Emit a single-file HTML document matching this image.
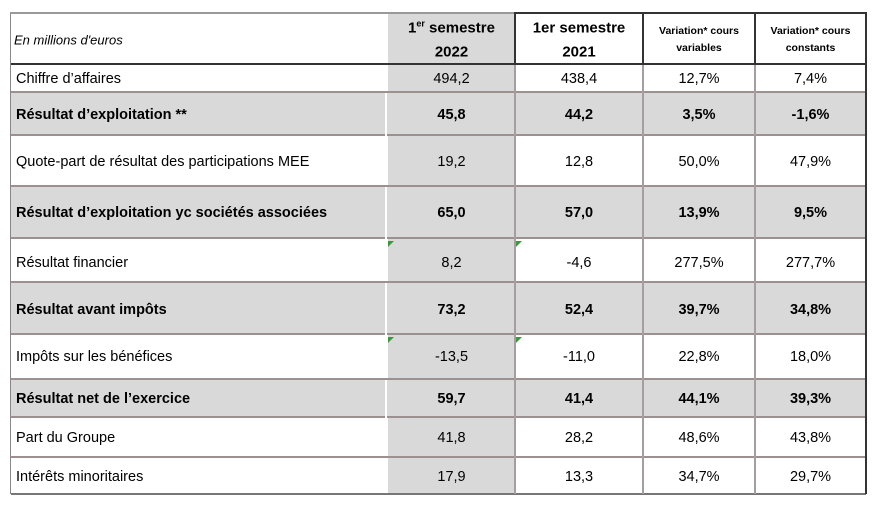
<!DOCTYPE html>
<html><head><meta charset="utf-8"><style>
body{margin:0;width:881px;height:508px;background:#fff;position:relative;overflow:hidden;font-family:"Liberation Sans",sans-serif;color:#000}
.a{position:absolute}
.r{position:absolute;left:11px;width:855px;border-bottom:2px solid #9c9090;box-sizing:border-box}
.g{background:#d9d9d9}
.t{position:absolute;font-size:14.5px;white-space:nowrap;transform:translateY(-50%)}
.c{text-align:center}
.b{font-weight:bold}
.v{position:absolute;top:13px;height:481px;width:2px;background:#a89ca0}
.tri{position:absolute;width:0;height:0;border-top:6px solid #3a9a3a;border-right:6px solid transparent}
</style></head><body>
<div class="a g" style="left:388px;top:13px;width:127px;height:481px"></div>
<div class="r" style="top:13px;height:52px;border-bottom-color:#333"></div>
<div class="r" style="top:65px;height:28px"></div>
<div class="r g" style="top:93px;height:43px"></div>
<div class="r" style="top:136px;height:51px"></div>
<div class="r g" style="top:187px;height:52px"></div>
<div class="r" style="top:239px;height:44px"></div>
<div class="r g" style="top:283px;height:52px"></div>
<div class="r" style="top:335px;height:45px"></div>
<div class="r g" style="top:380px;height:38px"></div>
<div class="r" style="top:418px;height:40px"></div>
<div class="r" style="top:458px;height:37px;border-bottom-color:#777"></div>
<div class="a" style="left:385px;top:93px;width:2px;height:43px;background:#fff"></div>
<div class="a" style="left:385px;top:187px;width:2px;height:52px;background:#fff"></div>
<div class="a" style="left:385px;top:283px;width:2px;height:52px;background:#fff"></div>
<div class="a" style="left:385px;top:380px;width:2px;height:38px;background:#fff"></div>
<div class="v" style="left:10px;background:#888;width:1px"></div>
<div class="v" style="left:514px"></div>
<div class="v" style="left:642px"></div>
<div class="v" style="left:754px"></div>
<div class="v" style="left:865px;background:#333"></div>
<div class="a" style="left:10px;top:12px;width:857px;height:2px;background:#999"></div>
<div class="a" style="left:514px;top:12px;width:353px;height:2px;background:#333"></div>
<div class="a" style="left:514px;top:12px;width:2px;height:53px;background:#333"></div>
<div class="a" style="left:642px;top:12px;width:2px;height:53px;background:#333"></div>
<div class="a" style="left:754px;top:12px;width:2px;height:53px;background:#333"></div>
<div class="tri" style="left:388px;top:241px"></div>
<div class="tri" style="left:516px;top:241px"></div>
<div class="tri" style="left:388px;top:337px"></div>
<div class="tri" style="left:516px;top:337px"></div>
<div class="t" style="left:14px;top:40px;font-style:italic;font-size:13px">En millions d'euros</div>
<div class="t c b" style="left:388px;width:127px;top:28px;font-size:15px">1<sup style="font-size:9px;line-height:0">er</sup> semestre</div>
<div class="t c b" style="left:388px;width:127px;top:52px;font-size:15px">2022</div>
<div class="t c b" style="left:515px;width:128px;top:28px;font-size:15px">1er semestre</div>
<div class="t c b" style="left:515px;width:128px;top:52px;font-size:15px">2021</div>
<div class="t c b" style="left:643px;width:112px;top:40px;line-height:17px;font-size:10.5px">Variation* cours<br>variables</div>
<div class="t c b" style="left:755px;width:111px;top:40px;line-height:17px;font-size:10.5px">Variation* cours<br>constants</div>
<div class="t" style="left:16px;top:79px">Chiffre d’affaires</div>
<div class="t c" style="left:388px;width:127px;top:79px">494,2</div><div class="t c" style="left:515px;width:128px;top:79px">438,4</div><div class="t c" style="left:643px;width:112px;top:79px">12,7%</div><div class="t c" style="left:755px;width:111px;top:79px">7,4%</div>
<div class="t b" style="left:16px;top:115px">Résultat d’exploitation **</div>
<div class="t c b" style="left:388px;width:127px;top:115px">45,8</div><div class="t c b" style="left:515px;width:128px;top:115px">44,2</div><div class="t c b" style="left:643px;width:112px;top:115px">3,5%</div><div class="t c b" style="left:755px;width:111px;top:115px">-1,6%</div>
<div class="t" style="left:16px;top:162px">Quote-part de résultat des participations MEE</div>
<div class="t c" style="left:388px;width:127px;top:162px">19,2</div><div class="t c" style="left:515px;width:128px;top:162px">12,8</div><div class="t c" style="left:643px;width:112px;top:162px">50,0%</div><div class="t c" style="left:755px;width:111px;top:162px">47,9%</div>
<div class="t b" style="left:16px;top:213px">Résultat d’exploitation yc sociétés associées</div>
<div class="t c b" style="left:388px;width:127px;top:213px">65,0</div><div class="t c b" style="left:515px;width:128px;top:213px">57,0</div><div class="t c b" style="left:643px;width:112px;top:213px">13,9%</div><div class="t c b" style="left:755px;width:111px;top:213px">9,5%</div>
<div class="t" style="left:16px;top:263px">Résultat financier</div>
<div class="t c" style="left:388px;width:127px;top:263px">8,2</div><div class="t c" style="left:515px;width:128px;top:263px">-4,6</div><div class="t c" style="left:643px;width:112px;top:263px">277,5%</div><div class="t c" style="left:755px;width:111px;top:263px">277,7%</div>
<div class="t b" style="left:16px;top:310px">Résultat avant impôts</div>
<div class="t c b" style="left:388px;width:127px;top:310px">73,2</div><div class="t c b" style="left:515px;width:128px;top:310px">52,4</div><div class="t c b" style="left:643px;width:112px;top:310px">39,7%</div><div class="t c b" style="left:755px;width:111px;top:310px">34,8%</div>
<div class="t" style="left:16px;top:357px">Impôts sur les bénéfices</div>
<div class="t c" style="left:388px;width:127px;top:357px">-13,5</div><div class="t c" style="left:515px;width:128px;top:357px">-11,0</div><div class="t c" style="left:643px;width:112px;top:357px">22,8%</div><div class="t c" style="left:755px;width:111px;top:357px">18,0%</div>
<div class="t b" style="left:16px;top:399px">Résultat net de l’exercice</div>
<div class="t c b" style="left:388px;width:127px;top:399px">59,7</div><div class="t c b" style="left:515px;width:128px;top:399px">41,4</div><div class="t c b" style="left:643px;width:112px;top:399px">44,1%</div><div class="t c b" style="left:755px;width:111px;top:399px">39,3%</div>
<div class="t" style="left:16px;top:438px">Part du Groupe</div>
<div class="t c" style="left:388px;width:127px;top:438px">41,8</div><div class="t c" style="left:515px;width:128px;top:438px">28,2</div><div class="t c" style="left:643px;width:112px;top:438px">48,6%</div><div class="t c" style="left:755px;width:111px;top:438px">43,8%</div>
<div class="t" style="left:16px;top:477px">Intérêts minoritaires</div>
<div class="t c" style="left:388px;width:127px;top:477px">17,9</div><div class="t c" style="left:515px;width:128px;top:477px">13,3</div><div class="t c" style="left:643px;width:112px;top:477px">34,7%</div><div class="t c" style="left:755px;width:111px;top:477px">29,7%</div>
</body></html>
